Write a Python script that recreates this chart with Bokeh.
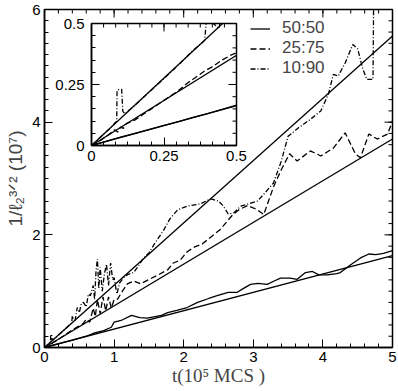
from bokeh.plotting import figure
from bokeh.models import FixedTicker, Range1d, Legend, LegendItem
from bokeh.layouts import column
from bokeh.embed import file_html
from bokeh.resources import INLINE
import numpy as np

# ---------------- data (t in 1e5 MCS, 1/l^{3/2} in 1e7) ----------------
t_fit = [0, 5]
fit_5050 = [0, 1.63]
fit_2575 = [0, 3.70]
fit_1090 = [0, 5.53]

t_5050 = [0, 0.05, 0.1, 0.15, 0.2, 0.25, 0.3, 0.35, 0.4, 0.45, 0.5, 0.6, 0.72, 0.85, 0.96,
          1.0, 1.1, 1.25, 1.37, 1.48, 1.68, 1.77, 1.9, 2.05, 2.2, 2.36, 2.48, 2.64, 2.77,
          2.86, 2.96, 3.07, 3.2, 3.3, 3.39, 3.53, 3.63, 3.75, 3.85, 3.94, 4.06, 4.2, 4.25,
          4.4, 4.54, 4.66, 4.76, 4.87, 5.0]
y_5050 = [0, 0.017, 0.034, 0.05, 0.066, 0.082, 0.098, 0.115, 0.131, 0.148, 0.165, 0.2, 0.26,
          0.3, 0.36, 0.45, 0.48, 0.57, 0.53, 0.52, 0.57, 0.62, 0.66, 0.71, 0.80, 0.87, 0.92,
          0.98, 0.98, 1.05, 1.12, 1.14, 1.12, 1.18, 1.23, 1.23, 1.21, 1.33, 1.35, 1.29, 1.29,
          1.31, 1.33, 1.47, 1.59, 1.66, 1.65, 1.67, 1.72]

t_2575 = [0, 0.03, 0.06, 0.08, 0.09, 0.1, 0.11, 0.12, 0.15, 0.2, 0.25, 0.3, 0.33, 0.36, 0.39,
          0.42, 0.45, 0.48, 0.5, 0.55, 0.6, 0.65, 0.7, 0.73, 0.76, 0.8, 0.84, 0.88, 0.92, 0.96,
          1.0, 1.05, 1.12, 1.19, 1.28, 1.38, 1.52, 1.65, 1.77, 1.85, 1.95, 2.05, 2.15, 2.27,
          2.41, 2.53, 2.63, 2.7, 2.8, 2.92, 3.05, 3.15, 3.29, 3.4, 3.52, 3.63, 3.82, 3.97,
          4.15, 4.32, 4.47, 4.54, 4.66, 4.78, 4.93, 5.0]
y_2575 = [0, 0.02, 0.045, 0.065, 0.055, 0.075, 0.07, 0.09, 0.105, 0.145, 0.185, 0.225, 0.255,
          0.28, 0.305, 0.325, 0.35, 0.37, 0.38, 0.42, 0.5, 0.45, 0.7, 0.55, 0.85, 0.6, 0.9,
          0.65, 0.9, 0.7, 0.85, 0.86, 1.0, 1.13, 1.18, 1.13, 1.22, 1.3, 1.38, 1.5, 1.55, 1.7,
          1.78, 1.84, 1.98, 2.1, 2.25, 2.35, 2.45, 2.52, 2.45, 2.36, 2.85, 3.15, 3.44, 3.31,
          3.49, 3.40, 3.54, 3.81, 3.43, 3.37, 3.79, 3.70, 3.79, 4.02]

t_1090 = [0, 0.02, 0.04, 0.06, 0.075, 0.087, 0.088, 0.095, 0.104, 0.108, 0.115, 0.15, 0.2,
          0.25, 0.3, 0.35, 0.39, 0.40, 0.42, 0.44, 0.47, 0.5, 0.53, 0.56, 0.6, 0.63, 0.66,
          0.7, 0.72, 0.74, 0.76, 0.78, 0.8, 0.83, 0.86, 0.89, 0.92, 0.95, 0.98, 1.0, 1.04,
          1.08, 1.14, 1.2, 1.28, 1.35, 1.42, 1.5, 1.57, 1.71, 1.8, 1.91, 2.05, 2.24, 2.39,
          2.5, 2.57, 2.64, 2.72, 2.82, 2.93, 3.06, 3.15, 3.29, 3.4, 3.5, 3.65, 3.82, 3.97,
          4.08, 4.15, 4.22, 4.32, 4.43, 4.5, 4.57, 4.63, 4.72, 4.73, 4.75]
y_1090 = [0, 0.022, 0.045, 0.066, 0.085, 0.1, 0.225, 0.23, 0.23, 0.14, 0.13, 0.165, 0.22,
          0.275, 0.33, 0.39, 0.43, 0.56, 0.50, 0.48, 0.71, 0.62, 0.78, 0.80, 0.72, 0.95, 0.92,
          1.1, 0.85, 1.35, 1.57, 1.05, 1.42, 1.0, 1.3, 1.48, 1.1, 1.50, 1.2, 1.24, 0.95, 1.15,
          1.24, 1.3, 1.33, 1.45, 1.58, 1.68, 1.82, 2.08, 2.28, 2.44, 2.51, 2.55, 2.64, 2.60,
          2.51, 2.37, 2.39, 2.51, 2.55, 2.60, 2.72, 2.92, 3.3, 3.75, 3.9, 4.05, 4.2, 4.5,
          4.85, 4.82, 5.05, 5.38, 5.3, 4.96, 4.76, 4.76, 6.3, 6.5]

labels = ["50:50", "25:75", "10:90"]

# ---------------- tick positions ----------------
main_xt = [0, 1, 2, 3, 4, 5]
main_xm = list(np.round(np.arange(0, 5.001, 0.2), 4))
main_yt = [0, 2, 4, 6]
main_ym = list(np.round(np.arange(0, 6.001, 0.2), 4))
ins_t = [0, 0.25, 0.5]
ins_xm = list(np.round(np.arange(0, 0.5001, 0.5 / 12), 5))
ins_ym = list(np.round(np.arange(0, 0.5001, 0.05), 4))

FONT = "Liberation Sans"
DASH = "6 3"
DASHDOT = "5 2 1 2"
LW = 1.3
MAJ = 8
MIN = 4


def style_axis(ax, ticks, minor, font_size="15px", standoff=4, overrides=None):
    ax.ticker = FixedTicker(ticks=ticks, minor_ticks=minor)
    ax.axis_line_width = 1.5
    ax.axis_line_color = "black"
    ax.major_tick_in = MAJ
    ax.major_tick_out = 0
    ax.minor_tick_in = MIN
    ax.minor_tick_out = 0
    ax.major_tick_line_width = 1
    ax.minor_tick_line_width = 1
    ax.major_tick_line_color = "black"
    ax.minor_tick_line_color = "black"
    ax.major_label_text_font = FONT
    ax.major_label_text_color = "black"
    ax.major_label_text_font_size = font_size
    ax.major_label_standoff = standoff
    if overrides:
        ax.major_label_overrides = overrides


def mirror_ticks(fig, xt, xm, yt, ym):
    # inward ticks on the top and right frame edges (half of each dash is clipped by the frame)
    xtop = fig.y_range.end
    yright = fig.x_range.end
    fig.scatter(xt, [xtop] * len(xt), marker="dash", angle=np.pi / 2, size=2 * MAJ,
                line_color="black", line_width=1)
    fig.scatter(xm, [xtop] * len(xm), marker="dash", angle=np.pi / 2, size=2 * MIN,
                line_color="black", line_width=1)
    fig.scatter([yright] * len(yt), yt, marker="dash", size=2 * MAJ,
                line_color="black", line_width=1)
    fig.scatter([yright] * len(ym), ym, marker="dash", size=2 * MIN,
                line_color="black", line_width=1)


# ---------------- main figure ----------------
p = figure(frame_width=348, frame_height=338, x_range=Range1d(0, 5), y_range=Range1d(0, 6),
           output_backend="svg", toolbar_location=None,
           min_border_left=44, min_border_right=6, min_border_top=9, min_border_bottom=44)
p.xgrid.visible = False
p.ygrid.visible = False
p.outline_line_color = "black"
p.outline_line_width = 1.5
p.background_fill_color = "white"
p.border_fill_color = "white"

xb = p.xaxis[0]
yl = p.yaxis[0]
style_axis(xb, main_xt, main_xm, standoff=4)
style_axis(yl, main_yt, main_ym, standoff=4)

xb.axis_label = "t(10⁵ MCS )"
xb.axis_label_text_font = "Liberation Serif"
xb.axis_label_text_font_style = "normal"
xb.axis_label_text_font_size = "19px"
xb.axis_label_standoff = 0
yl.axis_label = "1/ℓ₂³ᐟ² (10⁷)"
yl.axis_label_text_font = FONT
yl.axis_label_text_font_style = "normal"
yl.axis_label_text_font_size = "19px"
yl.axis_label_standoff = 3

mirror_ticks(p, main_xt, main_xm, main_yt, main_ym)

r50 = p.line(t_5050, y_5050, line_color="black", line_width=LW)
p.line(t_fit, fit_5050, line_color="black", line_width=LW)
r25 = p.line(t_2575, y_2575, line_color="black", line_width=LW, line_dash=DASH)
p.line(t_fit, fit_2575, line_color="black", line_width=LW)
r10 = p.line(t_1090, y_1090, line_color="black", line_width=LW, line_dash=DASHDOT)
p.line(t_fit, fit_1090, line_color="black", line_width=LW)

legend = Legend(items=[LegendItem(label=labels[0], renderers=[r50]),
                       LegendItem(label=labels[1], renderers=[r25]),
                       LegendItem(label=labels[2], renderers=[r10])],
                location=(206, 269), padding=0, spacing=0, margin=0,
                glyph_width=20, glyph_height=19, label_height=19, label_standoff=12,
                label_text_font=FONT, label_text_font_size="17px",
                border_line_alpha=0, background_fill_alpha=0)
p.add_layout(legend)

# ---------------- inset figure ----------------
ins = figure(width=201, height=152, x_range=Range1d(0, 0.5), y_range=Range1d(0, 0.5),
             output_backend="svg", toolbar_location=None,
             min_border_left=40, min_border_right=12, min_border_top=8, min_border_bottom=22,
             border_fill_color=None, background_fill_color="white")
ins.xgrid.visible = False
ins.ygrid.visible = False
ins.outline_line_color = "black"
ins.outline_line_width = 1.5
ov = {0: "0", 0.25: "0.25", 0.5: "0.5"}
style_axis(ins.xaxis[0], ins_t, ins_xm, standoff=5, overrides=ov)
style_axis(ins.yaxis[0], ins_t, ins_ym, standoff=7, overrides=ov)
mirror_ticks(ins, ins_t, ins_xm, ins_t, ins_ym)

ins.line(t_5050, y_5050, line_color="black", line_width=LW)
ins.line(t_fit, fit_5050, line_color="black", line_width=LW)
ins.line(t_2575, y_2575, line_color="black", line_width=LW, line_dash=DASH)
ins.line(t_fit, fit_2575, line_color="black", line_width=LW)
ins.line(t_1090, y_1090, line_color="black", line_width=LW, line_dash=DASHDOT)
ins.line(t_fit, fit_1090, line_color="black", line_width=LW)

ins.styles = {"position": "absolute", "left": "47px", "top": "15px"}

layout = column(p, ins)
open("out.html", "w").write(file_html(layout, INLINE))
